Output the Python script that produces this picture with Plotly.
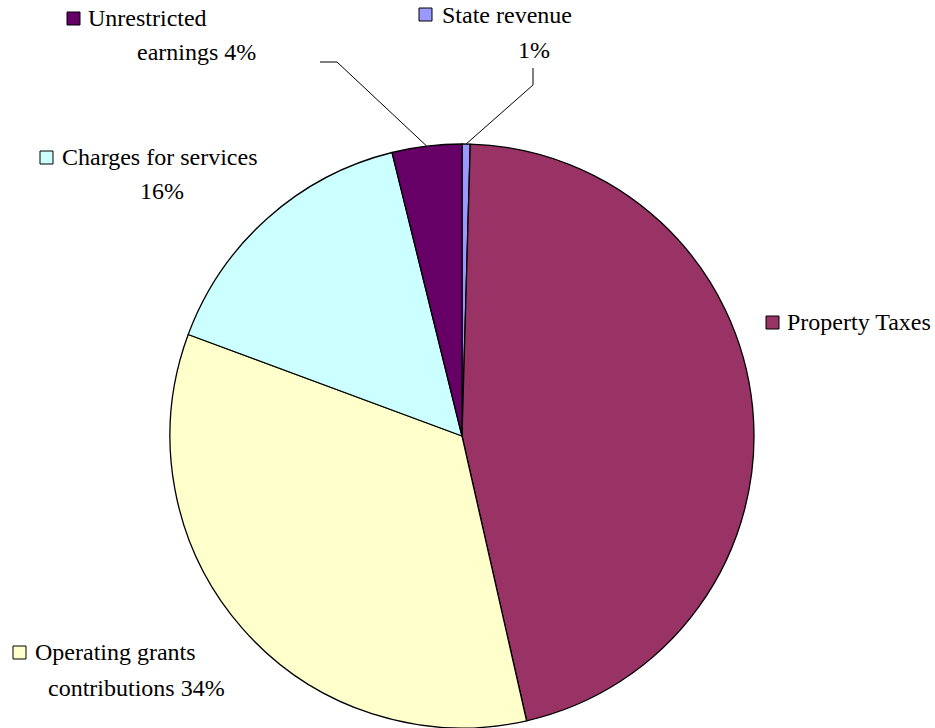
import math
import plotly.graph_objects as go

# ---- data ----
categories = ["State revenue", "Property Taxes", "Operating grants contributions",
              "Charges for services", "Unrestricted earnings"]
values = [0.45, 46.0, 34.2, 15.5, 3.85]
colors = ["#9999FF", "#993366", "#FFFFCC", "#CCFFFF", "#660066"]

# label lines (text per line) for each category
label_lines = {
    "State revenue": ["State revenue", "1%"],
    "Property Taxes": ["Property Taxes"],
    "Operating grants contributions": ["Operating grants", "contributions 34%"],
    "Charges for services": ["Charges for services", "16%"],
    "Unrestricted earnings": ["Unrestricted", "earnings 4%"],
}

W, H = 935, 728
CX, CY, R = 462, 436, 292  # pie centre / radius in pixels

def px(x):
    return x / W

def py(y):
    return 1 - y / H

FONT = '"Liberation Serif", "Times New Roman", Times, serif'

fig = go.Figure()
fig.add_trace(go.Pie(
    labels=categories,
    values=values,
    sort=False,
    direction="clockwise",
    rotation=0,
    marker=dict(colors=colors, line=dict(color="black", width=1.3)),
    textinfo="none",
    hoverinfo="label+percent",
    showlegend=False,
    domain=dict(x=[px(CX - R), px(CX + R)], y=[py(CY + R), py(CY - R)]),
))

# label layout: (square left, square top, text left, [line centre ys], [line lefts])
label_pos = {
    "State revenue": (419, 8, 442, [15, 50], [442, 518]),
    "Property Taxes": (766, 316, 787, [322], [787]),
    "Operating grants contributions": (13, 646, 35, [652, 688], [35, 48]),
    "Charges for services": (40, 151, 62, [157, 191], [62, 140]),
    "Unrestricted earnings": (67, 12, 88, [18, 52], [88, 137]),
}

shapes = []
annotations = []
SQ = 13
for cat, col in zip(categories, colors):
    sx, sy, tx, ys, xs = label_pos[cat]
    shapes.append(dict(type="rect", xref="paper", yref="paper",
                       x0=px(sx), x1=px(sx + SQ), y0=py(sy + SQ), y1=py(sy),
                       fillcolor=col, line=dict(color="black", width=1)))
    for line_text, ly, lx in zip(label_lines[cat], ys, xs):
        annotations.append(dict(text=line_text, xref="paper", yref="paper",
                                x=px(lx - 2), y=py(ly), xanchor="left", yanchor="middle",
                                showarrow=False,
                                font=dict(family=FONT, size=24, color="black")))

# leader lines to slice mid-angles (computed from data)
total = sum(values)
cum = 0
mid_angle = {}
for cat, v in zip(categories, values):
    mid_angle[cat] = (cum + v / 2) / total * 2 * math.pi
    cum += v

def edge(cat):
    a = mid_angle[cat]
    return CX + R * math.sin(a), CY - R * math.cos(a)

leaders = {
    "Unrestricted earnings": [(320, 62), (337, 62)],
    "State revenue": [(533, 68), (533, 85)],
}
for cat, pts in leaders.items():
    ex, ey = edge(cat)
    allpts = pts + [(ex, ey)]
    path = "M " + " L ".join(f"{px(x)},{py(y)}" for x, y in allpts)
    shapes.append(dict(type="path", xref="paper", yref="paper", path=path,
                       line=dict(color="black", width=1)))

fig.update_layout(
    width=W, height=H,
    margin=dict(l=0, r=0, t=0, b=0),
    paper_bgcolor="white",
    plot_bgcolor="white",
    font=dict(family=FONT),
    shapes=shapes,
    annotations=annotations,
    showlegend=False,
)

fig.write_html("out.html")
